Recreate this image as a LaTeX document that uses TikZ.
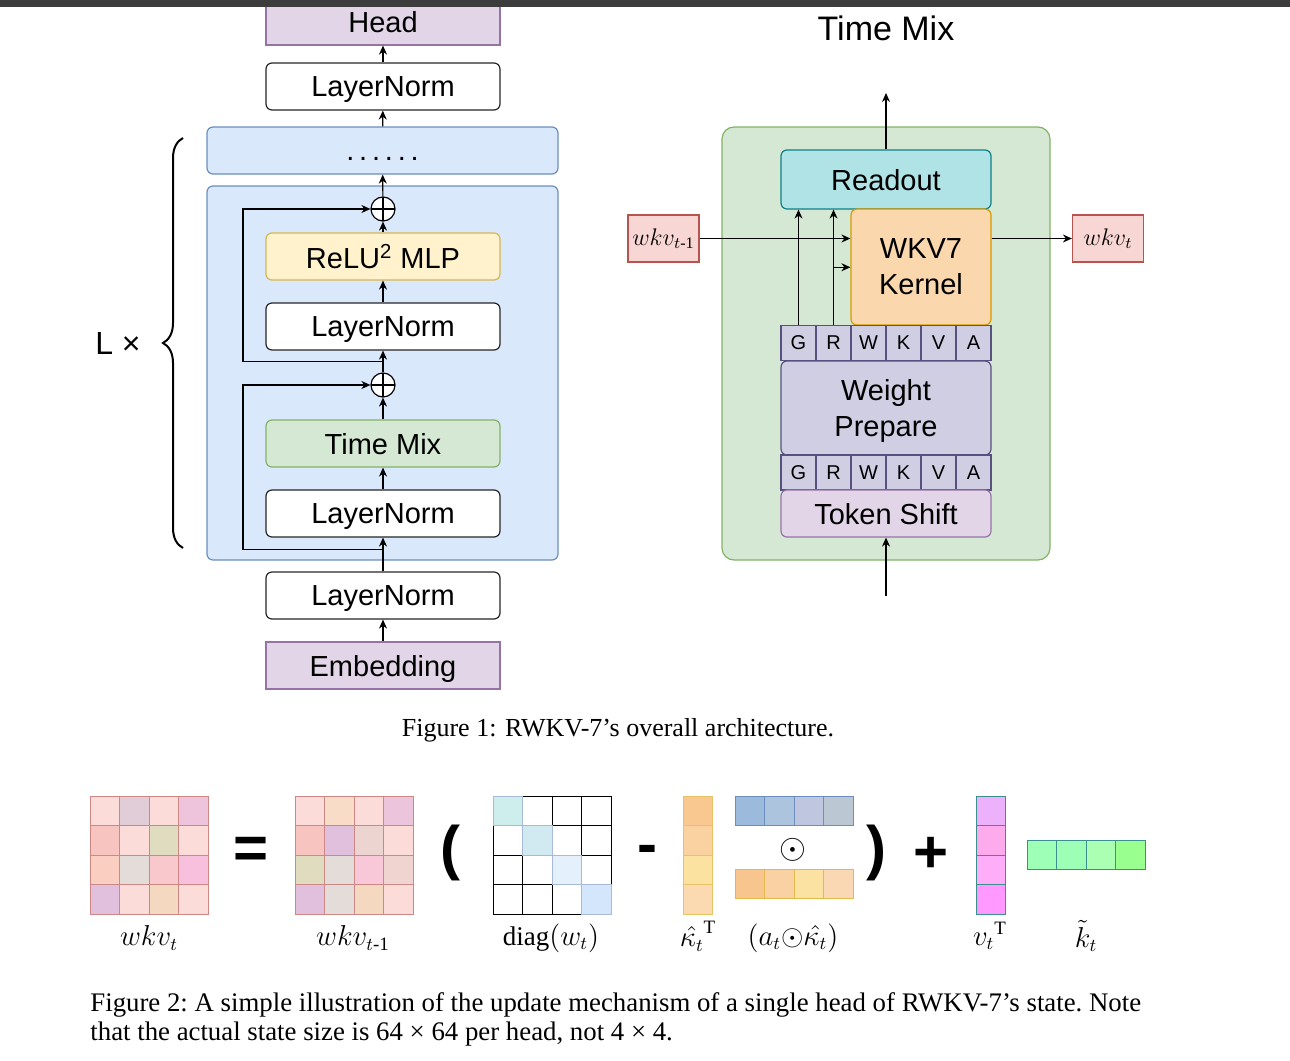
\documentclass[tikz,border=0pt]{standalone}
\usepackage{amsmath,amssymb}
\usepackage{fontspec}
\setmainfont{Liberation Serif}
\setsansfont{Liberation Sans}
\usepackage{tikz}
\usetikzlibrary{arrows.meta,positioning,calc,decorations.pathreplacing}

\definecolor{topbar}{HTML}{3C3C3C}
\definecolor{purfill}{HTML}{E1D5E7}
\definecolor{purline}{HTML}{9673A6}
\definecolor{blufill}{HTML}{DAE8FC}
\definecolor{bluline}{HTML}{6C8EBF}
\definecolor{yelfill}{HTML}{FFF2CC}
\definecolor{yelline}{HTML}{D6B656}
\definecolor{grnfill}{HTML}{D5E8D4}
\definecolor{grnline}{HTML}{82B366}
\definecolor{cynfill}{HTML}{B0E3E6}
\definecolor{cynline}{HTML}{0E8088}
\definecolor{orafill}{HTML}{FAD7AC}
\definecolor{oraline}{HTML}{D79B00}
\definecolor{gatfill}{HTML}{D0CEE2}
\definecolor{gatline}{HTML}{56517E}
\definecolor{redfill}{HTML}{F8D6D4}
\definecolor{redline}{HTML}{B85450}
\definecolor{tealine}{HTML}{3D8F8F}

\begin{document}
\begin{tikzpicture}[
  x=0.5pt, y=-0.5pt,
  font=\sffamily\fontsize{14.5}{18}\selectfont,
  >={Stealth[length=4.5pt,width=4pt]},
  box/.style={draw, rounded corners=3pt, align=center, inner sep=0pt, line width=0.6pt,
    minimum width=117pt, minimum height=23.5pt, text depth=0pt},
  lnorm/.style={box, fill=white, draw=black!85},
  iobox/.style={box, rounded corners=0pt, fill=purfill, draw=purline},
  blk/.style={box, fill=blufill, draw=bluline, minimum width=175.5pt},
  tmbox/.style={box, fill=grnfill, draw=grnline},
  mlpbox/.style={box, fill=yelfill, draw=yelline},
  rbox/.style={box, minimum width=105pt},
  gate/.style={draw=gatline, fill=gatfill, line width=0.6pt, minimum size=17.5pt, inner sep=0pt,
    text depth=0pt, font=\sffamily\fontsize{10}{12}\selectfont},
  stbox/.style={draw=redline, fill=redfill, line width=0.6pt, minimum width=35.5pt, minimum height=23.5pt,
    inner sep=0pt, font=\fontsize{11.5}{13}\selectfont},
  plus/.style={circle, draw, fill=white, minimum size=12pt, inner sep=0pt, line width=0.6pt,
    path picture={\draw (path picture bounding box.north) -- (path picture bounding box.south)
      (path picture bounding box.west) -- (path picture bounding box.east);}},
  arr/.style={->, line width=0.6pt},
  wcell/.style={draw=redline!70, line width=0.5pt},
  dcell/.style={draw=black, line width=0.5pt},
  lbl/.style={inner sep=0pt, font=\rmfamily\fontsize{13.5}{16}\selectfont},
  sym/.style={font=\sffamily\bfseries\fontsize{30}{30}\selectfont},
  captxt/.style={inner sep=0pt, font=\rmfamily\fontsize{13}{14.5}\selectfont},
]
\useasboundingbox (0,0) rectangle (1290,1060);

% ---------- left: overall stack ----------
\node[blk, minimum height=187pt] (blk) at (382.5,373) {};
\node[blk] (dts) at (382.5,150.5) {.\kern2.4pt.\kern2.4pt.\kern2.4pt.\kern2.4pt.\kern2.4pt.\vphantom{Ay}};

\node[iobox] (emb) at (383,665.5) {Embedding};
\node[lnorm] (ln0) at (383,595.5) {LayerNorm};
\node[lnorm] (ln1) at (383,513.5) {LayerNorm};
\node[tmbox] (tm)  at (383,443.5) {Time Mix};
\node[plus]  (pl2) at (383,385) {};
\node[lnorm] (ln2) at (383,326.5) {LayerNorm};
\node[mlpbox] (mlp) at (383,256.5) {ReLU\textsuperscript{2} MLP};
\node[plus]  (pl1) at (383,209) {};
\node[lnorm] (lnf) at (383,86.5) {LayerNorm};
\node[iobox] (head) at (383,21.5) {Head};

\draw[arr] (emb) -- (ln0);
\draw[arr] (ln0) -- (ln1);
\draw[arr] (ln1) -- (tm);
\draw[arr] (tm) -- (pl2);
\draw[arr] (pl2) -- (ln2);
\draw[arr] (ln2) -- (mlp);
\draw[arr] (mlp) -- (pl1);
\draw[arr] (pl1) -- (dts);
\draw[arr] (dts) -- (lnf);
\draw[arr] (lnf) -- (head);

% residual paths
\coordinate (sk1) at ($(ln1.south)!.5!(ln1.south |- blk.south)$);
\coordinate (sk2) at ($(ln2.south)!.5!(pl2.north)$);
\draw[arr] (sk1) -- ++(-140,0) |- (pl2.west);
\draw[arr] (sk2) -- ++(-140,0) |- (pl1.west);

% repeat brace
\draw[line width=1pt, decorate, decoration={brace, amplitude=10pt}] (183,548) -- (183,138);
\node[font=\sffamily\fontsize{16}{18}\selectfont] (rep) at (118,343) {L ×};

% ---------- right: time mix ----------
\node[font=\sffamily\fontsize{17}{20}\selectfont] (tmtitle) at (886,28) {Time Mix};
\node[box, rounded corners=6pt, fill=grnfill, draw=grnline, minimum width=164pt, minimum height=216.5pt]
  (tmc) at (886,343.5) {};

\node[rbox, fill=cynfill, draw=cynline, minimum height=29.5pt] (ro) at (886,179.5) {Readout};
\node[box, fill=orafill, draw=oraline, minimum width=70pt, minimum height=58pt] (kern) at (921,267)
  {WKV7\\Kernel};
\foreach \g [count=\i from 0] in {G,R,W,K,V,A}
  \node[gate] (gA\i) at (798.5+35*\i,343) {\g};
\node[rbox, fill=gatfill, draw=gatline, minimum height=47pt] (wp) at (886,408) {Weight\\Prepare};
\foreach \g [count=\i from 0] in {G,R,W,K,V,A}
  \node[gate] (gB\i) at (798.5+35*\i,472.5) {\g};
\node[rbox, fill=purfill, draw=purline] (ts) at (886,513.5) {Token Shift};

\node[stbox] (wprev) at (663.5,238.5) {$wkv_{t\text{-1}}$};
\node[stbox] (wnext) at (1108,238.5) {$wkv_t$};

\coordinate (tmout) at (886,93);
\coordinate (tmin) at (886,596);
\coordinate (rbr) at ($(gA1.north)!.5!(gA1 |- ro.south)$);

\draw[arr] (ro) -- (tmout);
\draw[arr] (tmin) -- (ts);
\draw[arr] (gA0) -- (gA0 |- ro.south);
\draw[arr] (gA1) -- (gA1 |- ro.south);
\draw[arr] (rbr) -- (rbr -| kern.west);
\draw[arr] (wprev) -- (wprev -| kern.west);
\draw[arr] (wprev -| kern.east) -- (wnext);

\node[captxt] (cap1) at (618,730) {Figure 1: RWKV-7’s overall architecture.};

% ---------- state update ----------
% wkv_t
\foreach \row [count=\ri from 0] in {{FBDCD8,E0CDD8,FBDCD8,EDC4DC},{F8C4C0,FBDCD8,E0DCC0,FBDCD8},
    {FACEC0,E4DCD8,F8C8CC,F8C0DC},{E0C0DC,FBDCD8,F4D8C0,FBDCD8}}
  \foreach \hx [count=\ci from 0] in \row {
    \definecolor{cellc}{HTML}{\hx}
    \draw[wcell, fill=cellc] (90+29.5*\ci,796+29.5*\ri) rectangle ++(29.5,29.5);
  }
% wkv_{t-1}
\foreach \row [count=\ri from 0] in {{FBDCD8,F8DCC8,FBDCD8,ECC4DC},{F8C4C0,E0C0DC,ECD4D0,FBDCD8},
    {E0DCC0,E4DCD8,F8C8D8,F0D4D0},{E0C0DC,E4DCD8,F4D8C0,FBDCD8}}
  \foreach \hx [count=\ci from 0] in \row {
    \definecolor{cellc}{HTML}{\hx}
    \draw[wcell, fill=cellc] (295+29.5*\ci,796+29.5*\ri) rectangle ++(29.5,29.5);
  }
% diag(w_t)
\foreach \ri in {0,...,3}
  \foreach \ci in {0,...,3}
    \draw[dcell, fill=white] (493+29.5*\ci,796+29.5*\ri) rectangle ++(29.5,29.5);
\foreach \hx [count=\i from 0] in {CEEEEE,D1E9F1,E4F0FC,D3E6FB} {
  \definecolor{cellc}{HTML}{\hx}
  \draw[draw=bluline!60, fill=cellc, line width=0.5pt] (493+29.5*\i,796+29.5*\i) rectangle ++(29.5,29.5);
}
% kappa column, a*kappa rows
\foreach \hx [count=\i from 0] in {F9C790,FAD1A1,FCE2A0,FBDAB2} {
  \definecolor{cellc}{HTML}{\hx}
  \draw[draw=oraline!60, fill=cellc, line width=0.5pt] (683,796+29.5*\i) rectangle ++(29.5,29.5);
}
\foreach \hx [count=\i from 0] in {9CBBDC,ADC4DF,BFC7E0,BBC7D3} {
  \definecolor{cellc}{HTML}{\hx}
  \draw[draw=bluline, fill=cellc, line width=0.5pt] (735+29.5*\i,796) rectangle ++(29.5,29.5);
}
\foreach \hx [count=\i from 0] in {F8C58F,FAD1A2,FBE1A2,FAD8B3} {
  \definecolor{cellc}{HTML}{\hx}
  \draw[draw=oraline!70, fill=cellc, line width=0.5pt] (735+29.5*\i,869) rectangle ++(29.5,29.5);
}
% v column, k row
\foreach \hx [count=\i from 0] in {EDB0FA,FDABEC,FEADF8,FF99FF} {
  \definecolor{cellc}{HTML}{\hx}
  \draw[draw=tealine, fill=cellc, line width=0.5pt] (976,796+29.5*\i) rectangle ++(29.5,29.5);
}
\foreach \hx [count=\i from 0] in {9EFFB6,9CFFB5,AAFFB3,99FF8E} {
  \definecolor{cellc}{HTML}{\hx}
  \draw[draw=tealine, fill=cellc, line width=0.5pt] (1027+29.5*\i,840) rectangle ++(29.5,29.5);
}

\node[sym] (eq) at (251,853) {=};
\node[sym] (lp) at (450,853) {(};
\node[sym] (mn) at (647,855) {-};
\node[font=\fontsize{17}{17}\selectfont] (od) at (793,850) {$\odot$};
\node[sym] (rp) at (876,853) {)};
\node[sym] (pl) at (931,855) {+};

\node[lbl] (lwn) at (149,938) {$wkv_t$};
\node[lbl] (lwp) at (353,938) {$wkv_{t\text{-1}}$};
\node[lbl] (ldg) at (551,938) {$\mathrm{diag}(w_t)$};
\node[lbl] (lkp) at (698,936) {$\hat{\kappa_t}^{\mathrm{T}}$};
\node[lbl] (lak) at (793,938) {$(a_t{\odot}\hat{\kappa_t})$};
\node[lbl] (lvt) at (990,936) {${v_t}^{\mathrm{T}}$};
\node[lbl] (lkt) at (1086,936) {$\tilde{k}_t$};

\node[captxt, font=\rmfamily\fontsize{13.4}{14.5}\selectfont\frenchspacing, anchor=north west, align=left]
  (cap2) at (90,992)
  {Figure 2: A simple illustration of the update mechanism of a single head of RWKV-7’s state. Note\\
   that the actual state size is 64 × 64 per head, not 4 × 4.};

\fill[topbar] (0,0) rectangle (1290,7);
\end{tikzpicture}
\end{document}
